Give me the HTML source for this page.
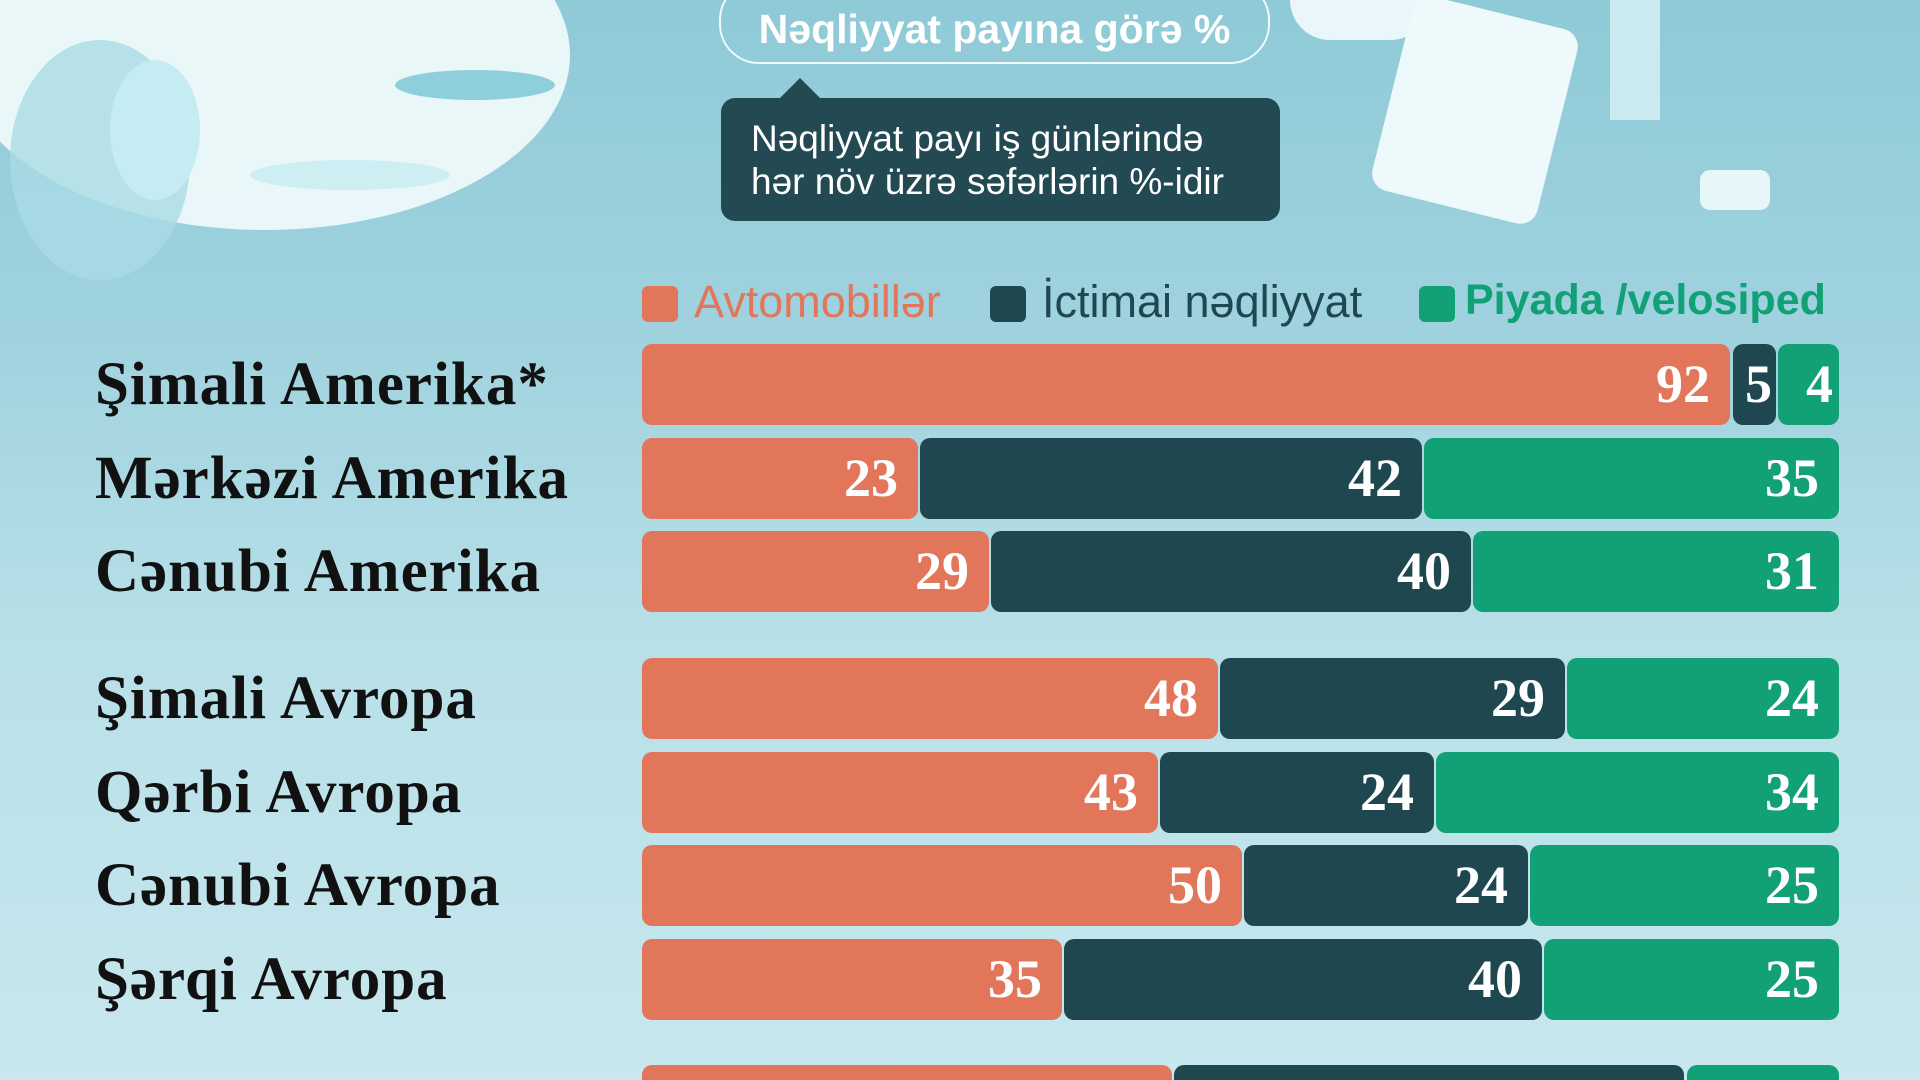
<!DOCTYPE html>
<html><head><meta charset="utf-8"><style>
*{margin:0;padding:0;box-sizing:border-box}
html,body{width:1920px;height:1080px;overflow:hidden}
#w{width:1920px;height:1080px;overflow:hidden;position:relative;background:linear-gradient(180deg,#8fcad7 0%,#9fd2de 30%,#b8e0e8 60%,#c8e7ee 100%);font-family:"Liberation Sans",sans-serif}
.abs{position:absolute}
.lbl{position:absolute;left:95px;font-family:"Liberation Serif",serif;font-weight:bold;font-size:61px;letter-spacing:1px;color:#111;line-height:81px}
.seg{position:absolute;height:81px;border-radius:10px;color:#fff;font-family:"Liberation Serif",serif;font-weight:bold;font-size:54px;text-align:right;padding-right:20px;line-height:81px}
.o{background:#e2765a}.d{background:#1f4750}.g{background:#12a077}
</style></head><body><div id="w">
<div class="abs" style="left:-40px;top:-120px;width:610px;height:350px;border-radius:50%;background:#eef9fb;opacity:.95"></div>
<div class="abs" style="left:10px;top:40px;width:180px;height:240px;border-radius:50%;background:#a9dbe5;opacity:.8"></div>
<div class="abs" style="left:110px;top:60px;width:90px;height:140px;border-radius:50%;background:#c5ecf2"></div>
<div class="abs" style="left:395px;top:70px;width:160px;height:30px;border-radius:50%;background:#8fcfdc"></div>
<div class="abs" style="left:250px;top:160px;width:200px;height:30px;border-radius:50%;background:#cdeef3"></div>
<div class="abs" style="left:1290px;top:-60px;width:140px;height:100px;border-radius:40px;background:#eaf7fa"></div>
<div class="abs" style="left:1390px;top:10px;width:170px;height:200px;border-radius:18px;background:#eef9fb;transform:rotate(14deg)"></div>
<div class="abs" style="left:1610px;top:-20px;width:50px;height:140px;background:#cbeaf0"></div>
<div class="abs" style="left:1700px;top:170px;width:70px;height:40px;border-radius:10px;background:#e6f6f9"></div>
<div class="abs" style="left:719px;top:-20px;width:551px;height:84px;border:2px solid #f0fafc;border-radius:40px;color:#fff;font-weight:bold;font-size:41px;text-align:center;padding-top:24px">Nəqliyyat payına görə %</div>
<div class="abs" style="left:778px;top:78px;width:0;height:0;border-left:22px solid transparent;border-right:22px solid transparent;border-bottom:22px solid #234a53"></div>
<div class="abs" style="left:721px;top:98px;width:559px;height:123px;background:#234a53;border-radius:14px;color:#fff;font-size:37px;line-height:43px;padding:19px 0 0 30px">Nəqliyyat payı iş günlərində<br>hər növ üzrə səfərlərin %-idir</div>
<div class="abs" style="left:642px;top:286px;width:36px;height:36px;border-radius:6px;background:#e2765a"></div>
<div class="abs" style="left:694px;top:276px;font-size:45px;color:#e2765a">Avtomobillər</div>
<div class="abs" style="left:990px;top:286px;width:36px;height:36px;border-radius:6px;background:#1f4750"></div>
<div class="abs" style="left:1042px;top:276px;font-size:45px;color:#1f4750">İctimai nəqliyyat</div>
<div class="abs" style="left:1419px;top:286px;width:36px;height:36px;border-radius:6px;background:#12a077"></div>
<div class="abs" style="left:1465px;top:276px;font-size:43px;font-weight:bold;color:#12a077">Piyada /velosiped</div>

<div class="lbl" style="top:344px">Şimali Amerika*</div>
<div class="seg o" style="top:344px;left:642px;width:1088px">92</div>
<div class="seg d" style="top:344px;left:1733px;width:43px;padding-right:4px">5</div>
<div class="seg g" style="top:344px;left:1778px;width:61px;padding-right:6px">4</div>

<div class="lbl" style="top:438px">Mərkəzi Amerika</div>
<div class="seg o" style="top:438px;left:642px;width:276px">23</div>
<div class="seg d" style="top:438px;left:920px;width:502px">42</div>
<div class="seg g" style="top:438px;left:1424px;width:415px">35</div>

<div class="lbl" style="top:531px">Cənubi Amerika</div>
<div class="seg o" style="top:531px;left:642px;width:347px">29</div>
<div class="seg d" style="top:531px;left:991px;width:480px">40</div>
<div class="seg g" style="top:531px;left:1473px;width:366px">31</div>

<div class="lbl" style="top:658px">Şimali Avropa</div>
<div class="seg o" style="top:658px;left:642px;width:576px">48</div>
<div class="seg d" style="top:658px;left:1220px;width:345px">29</div>
<div class="seg g" style="top:658px;left:1567px;width:272px">24</div>

<div class="lbl" style="top:752px">Qərbi Avropa</div>
<div class="seg o" style="top:752px;left:642px;width:516px">43</div>
<div class="seg d" style="top:752px;left:1160px;width:274px">24</div>
<div class="seg g" style="top:752px;left:1436px;width:403px">34</div>

<div class="lbl" style="top:845px">Cənubi Avropa</div>
<div class="seg o" style="top:845px;left:642px;width:600px">50</div>
<div class="seg d" style="top:845px;left:1244px;width:284px">24</div>
<div class="seg g" style="top:845px;left:1530px;width:309px">25</div>

<div class="lbl" style="top:939px">Şərqi Avropa</div>
<div class="seg o" style="top:939px;left:642px;width:420px">35</div>
<div class="seg d" style="top:939px;left:1064px;width:478px">40</div>
<div class="seg g" style="top:939px;left:1544px;width:295px">25</div>

<div class="seg o" style="top:1065px;left:642px;width:530px;height:15px;border-radius:10px 10px 0 0"></div>
<div class="seg d" style="top:1065px;left:1174px;width:510px;height:15px;border-radius:10px 10px 0 0"></div>
<div class="seg g" style="top:1065px;left:1687px;width:152px;height:15px;border-radius:10px 10px 0 0"></div>
</div></body></html>
